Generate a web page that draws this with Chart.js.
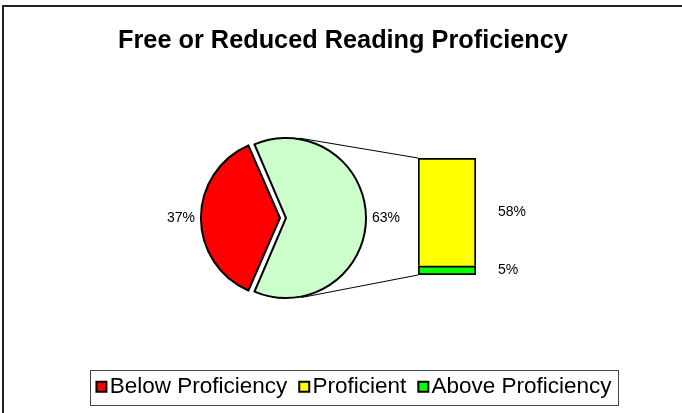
<!DOCTYPE html>
<html>
<head>
<meta charset="utf-8">
<title>Free or Reduced Reading Proficiency</title>
<script src="https://cdn.jsdelivr.net/npm/chart.js@4.4.1/dist/chart.umd.min.js"></script>
<style>
  html, body { margin: 0; padding: 0; background: #fff; }
  #wrap { position: relative; width: 682px; height: 413px; }
  #wrap canvas { position: absolute; left: 0; top: 0; }
</style>
</head>
<body>
<div id="wrap">
  <canvas id="frame" width="682" height="413"></canvas>
  <canvas id="legend" width="682" height="413"></canvas>
  <canvas id="pie" width="682" height="413"></canvas>
  <canvas id="bar" width="682" height="413"></canvas>
</div>
<script>
// chart data
const TITLE = 'Free or Reduced Reading Proficiency';
const pieLabels = ['Below Proficiency', 'Proficient or Above'];
const pieValues = [37, 63];
const barLabels = ['Above Proficiency', 'Proficient'];   // stacked bottom -> top
const barValues = [5, 58];
const legendLabels = ['Below Proficiency', 'Proficient', 'Above Proficiency'];
const legendColors = ['#ff0000', '#ffff00', '#00ff00'];

const FONT = "'Liberation Sans', Arial, Helvetica, sans-serif";
const PIE_COLORS = ['#ff0000', '#ccffcc'];
const BAR_COLORS = ['#00ff00', '#ffff00'];

const pieTotal = pieValues.reduce((a, b) => a + b, 0);
const barTotal = barValues.reduce((a, b) => a + b, 0);

const baseOptions = {
  responsive: false,
  animation: false,
  events: []
};

/**
 * Where an arc is really drawn (Chart.js shifts it by offset/4 and grows it a bit)
 */
function arcGeometry(arc) {
  const off = (arc.options.offset || 0) / 4;
  const circ = arc.endAngle - arc.startAngle;
  const fix = 1 - Math.sin(Math.min(Math.PI, circ));
  const mid = (arc.startAngle + arc.endAngle) / 2;
  return {
    mid,
    cx: arc.x + Math.cos(mid) * off,
    cy: arc.y + Math.sin(mid) * off,
    r: arc.outerRadius + off * fix + (arc.options.borderWidth || 0) / 2
  };
}

// legend swatch: square sits at the right of the image so it hugs the text
function makeSwatch(color) {
  const c = document.createElement('canvas');
  c.width = 22;
  c.height = 14;
  const g = c.getContext('2d');
  g.fillStyle = color;
  g.fillRect(9, 1, 12, 12);
  g.lineWidth = 2;
  g.strokeStyle = '#000';
  g.strokeRect(10, 2, 10, 10);
  return c;
}

// ---- frame: title + outer border ----
const borderPlugin = {
  id: 'borderPlugin',
  beforeDraw(chart) {
    const { ctx } = chart;
    ctx.save();
    ctx.strokeStyle = '#222';
    ctx.lineWidth = 2;
    ctx.beginPath();
    ctx.moveTo(3, 413);
    ctx.lineTo(3, 6);
    ctx.lineTo(682, 6);
    ctx.stroke();
    ctx.restore();
  }
};

new Chart(document.getElementById('frame'), {
  type: 'pie',
  data: { labels: [], datasets: [] },
  options: {
    ...baseOptions,
    layout: { padding: { left: 4, right: 0 } },
    plugins: {
      title: {
        display: true,
        text: TITLE,
        color: '#000',
        font: { family: FONT, size: 25.3, weight: 'bold' },
        padding: { top: 26, bottom: 0 }
      },
      legend: { display: false },
      tooltip: { enabled: false }
    }
  },
  plugins: [borderPlugin]
});

// ---- legend with its box ----
const legendBoxPlugin = {
  id: 'legendBox',
  afterDraw(chart) {
    const boxes = chart.legend.legendHitBoxes;
    if (!boxes || !boxes.length) return;
    const { ctx } = chart;
    const left = Math.min(...boxes.map(b => b.left)) - 6;
    const right = Math.max(...boxes.map(b => b.left + b.width)) + 7;
    const top = boxes[0].top - 6;
    const bottom = boxes[0].top + boxes[0].height + 6;
    ctx.save();
    ctx.strokeStyle = '#444';
    ctx.lineWidth = 1;
    ctx.strokeRect(Math.round(left) + 0.5, Math.round(top) + 0.5,
      Math.round(right - left), Math.round(bottom - top));
    ctx.restore();
  }
};

new Chart(document.getElementById('legend'), {
  type: 'pie',
  data: { labels: legendLabels, datasets: [] },
  options: {
    ...baseOptions,
    layout: { padding: { left: 26, right: 0, top: 0, bottom: 5 } },
    plugins: {
      title: { display: false },
      legend: {
        position: 'bottom',
        align: 'center',
        labels: {
          color: '#000',
          font: { family: FONT, size: 22.5 },
          padding: 12,
          usePointStyle: true,
          pointStyleWidth: 2,
          boxHeight: 12,
          generateLabels: () => legendLabels.map((text, i) => ({
            text,
            pointStyle: makeSwatch(legendColors[i]),
            fillStyle: legendColors[i],
            strokeStyle: '#000',
            lineWidth: 2,
            hidden: false,
            index: i
          }))
        }
      },
      tooltip: { enabled: false }
    }
  },
  plugins: [legendBoxPlugin]
});

// ---- pie ----
const pieLabelPlugin = {
  id: 'pieLabels',
  afterDatasetsDraw(chart) {
    const { ctx } = chart;
    ctx.save();
    ctx.font = '14px ' + FONT;
    ctx.fillStyle = '#000';
    ctx.textBaseline = 'middle';
    chart.getDatasetMeta(0).data.forEach((arc, i) => {
      const g = arcGeometry(arc);
      const d = g.r + 5;
      const left = Math.cos(g.mid) < 0;
      ctx.textAlign = left ? 'right' : 'left';
      ctx.fillText(pieValues[i] + '%', g.cx + Math.cos(g.mid) * d, g.cy + Math.sin(g.mid) * d);
    });
    ctx.restore();
  }
};

const pieChart = new Chart(document.getElementById('pie'), {
  type: 'pie',
  data: {
    labels: pieLabels,
    datasets: [{
      data: pieValues,
      backgroundColor: PIE_COLORS,
      borderColor: '#000',
      borderWidth: 2,
      borderJoinStyle: 'miter',
      offset: [16, 8],
      hoverOffset: 0
    }]
  },
  options: {
    ...baseOptions,
    radius: 78,
    // first slice centred on the left side
    rotation: 270 - (pieValues[0] / pieTotal) * 180,
    layout: { padding: { left: 184, right: 298, top: 118, bottom: 95 } },
    plugins: {
      legend: { display: false },
      title: { display: false },
      tooltip: { enabled: false }
    }
  },
  plugins: [pieLabelPlugin]
});

// ---- bar of pie ----
const barExtras = {
  id: 'barExtras',
  afterDraw(chart) {
    const { ctx } = chart;
    const bottomBar = chart.getDatasetMeta(0).data[0];
    const topBar = chart.getDatasetMeta(1).data[0];
    const barLeft = topBar.x - topBar.width / 2;

    // connector lines, tangent to the "other" slice
    const g = arcGeometry(pieChart.getDatasetMeta(0).data[1]);
    const tangent = (px, py, sign) => {
      const dx = px - g.cx, dy = py - g.cy;
      const d = Math.hypot(dx, dy);
      const a = Math.atan2(dy, dx) + sign * Math.acos(g.r / d);
      return [g.cx + g.r * Math.cos(a), g.cy + g.r * Math.sin(a)];
    };
    const t1 = tangent(barLeft, topBar.y, -1);
    const t2 = tangent(barLeft, bottomBar.base, 1);
    ctx.save();
    ctx.strokeStyle = '#000';
    ctx.lineWidth = 1;
    ctx.beginPath();
    ctx.moveTo(t1[0], t1[1]);
    ctx.lineTo(barLeft, topBar.y);
    ctx.moveTo(t2[0], t2[1]);
    ctx.lineTo(barLeft, bottomBar.base);
    ctx.stroke();

    // value labels to the right of the bar
    ctx.font = '14px ' + FONT;
    ctx.fillStyle = '#000';
    ctx.textAlign = 'left';
    ctx.textBaseline = 'middle';
    [bottomBar, topBar].forEach((bar, i) => {
      ctx.fillText(barValues[i] + '%', bar.x + bar.width / 2 + 22, (bar.y + bar.base) / 2);
    });
    ctx.restore();
  }
};

new Chart(document.getElementById('bar'), {
  type: 'bar',
  data: {
    labels: [''],
    datasets: [
      {
        label: barLabels[0],
        data: [barValues[0]],
        backgroundColor: BAR_COLORS[0],
        borderColor: '#000',
        borderWidth: 2,
        borderSkipped: false
      },
      {
        label: barLabels[1],
        data: [barValues[1]],
        backgroundColor: BAR_COLORS[1],
        borderColor: '#000',
        borderWidth: 2,
        borderSkipped: 'bottom'
      }
    ]
  },
  options: {
    ...baseOptions,
    barPercentage: 1,
    categoryPercentage: 1,
    layout: { padding: { left: 418, right: 206, top: 158, bottom: 138 } },
    scales: {
      x: { stacked: true, display: false },
      y: { stacked: true, display: false, min: 0, max: barTotal }
    },
    plugins: {
      legend: { display: false },
      tooltip: { enabled: false }
    }
  },
  plugins: [barExtras]
});
</script>
</body>
</html>
